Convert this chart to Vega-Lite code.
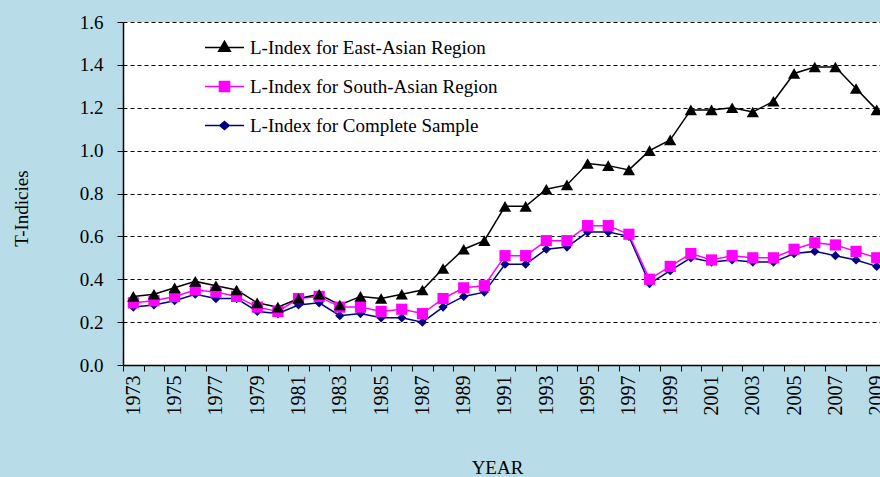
{
  "$schema": "https://vega.github.io/schema/vega-lite/v6.json",
  "autosize": {"type": "none"},
  "width": 757,
  "height": 343,
  "padding": {"left": 123, "top": 22, "right": 0, "bottom": 112},
  "background": "#b8dde8",
  "config": {
    "view": {"stroke": null, "fill": "white"},
    "font": "Liberation Serif"
  },
  "data": {
    "values": [
      {"year": 1973, "E": 0.32, "S": 0.29, "C": 0.27},
      {"year": 1974, "E": 0.33, "S": 0.30, "C": 0.28},
      {"year": 1975, "E": 0.36, "S": 0.32, "C": 0.30},
      {"year": 1976, "E": 0.39, "S": 0.35, "C": 0.33},
      {"year": 1977, "E": 0.37, "S": 0.34, "C": 0.31},
      {"year": 1978, "E": 0.35, "S": 0.32, "C": 0.31},
      {"year": 1979, "E": 0.29, "S": 0.27, "C": 0.25},
      {"year": 1980, "E": 0.27, "S": 0.25, "C": 0.24},
      {"year": 1981, "E": 0.31, "S": 0.31, "C": 0.28},
      {"year": 1982, "E": 0.33, "S": 0.32, "C": 0.29},
      {"year": 1983, "E": 0.28, "S": 0.27, "C": 0.23},
      {"year": 1984, "E": 0.32, "S": 0.27, "C": 0.24},
      {"year": 1985, "E": 0.31, "S": 0.25, "C": 0.22},
      {"year": 1986, "E": 0.33, "S": 0.26, "C": 0.22},
      {"year": 1987, "E": 0.35, "S": 0.24, "C": 0.20},
      {"year": 1988, "E": 0.45, "S": 0.31, "C": 0.27},
      {"year": 1989, "E": 0.54, "S": 0.36, "C": 0.32},
      {"year": 1990, "E": 0.58, "S": 0.37, "C": 0.34},
      {"year": 1991, "E": 0.74, "S": 0.51, "C": 0.47},
      {"year": 1992, "E": 0.74, "S": 0.51, "C": 0.47},
      {"year": 1993, "E": 0.82, "S": 0.58, "C": 0.54},
      {"year": 1994, "E": 0.84, "S": 0.58, "C": 0.55},
      {"year": 1995, "E": 0.94, "S": 0.65, "C": 0.62},
      {"year": 1996, "E": 0.93, "S": 0.65, "C": 0.62},
      {"year": 1997, "E": 0.91, "S": 0.61, "C": 0.60},
      {"year": 1998, "E": 1.00, "S": 0.40, "C": 0.38},
      {"year": 1999, "E": 1.05, "S": 0.46, "C": 0.44},
      {"year": 2000, "E": 1.19, "S": 0.52, "C": 0.50},
      {"year": 2001, "E": 1.19, "S": 0.49, "C": 0.48},
      {"year": 2002, "E": 1.20, "S": 0.51, "C": 0.49},
      {"year": 2003, "E": 1.18, "S": 0.50, "C": 0.48},
      {"year": 2004, "E": 1.23, "S": 0.50, "C": 0.48},
      {"year": 2005, "E": 1.36, "S": 0.54, "C": 0.52},
      {"year": 2006, "E": 1.39, "S": 0.57, "C": 0.53},
      {"year": 2007, "E": 1.39, "S": 0.56, "C": 0.51},
      {"year": 2008, "E": 1.29, "S": 0.53, "C": 0.49},
      {"year": 2009, "E": 1.19, "S": 0.50, "C": 0.46}
    ]
  },
  "transform": [
    {"fold": ["C", "S", "E"], "as": ["series", "value"]}
  ],
  "encoding": {
    "x": {
      "field": "year",
      "type": "quantitative",
      "scale": {"domain": [1972.5, 2009.16], "nice": false, "zero": false},
      "axis": {
        "title": "YEAR",
        "titleFont": "Liberation Serif",
        "titleFontSize": 19,
        "titleFontWeight": "normal",
        "titleColor": "black",
        "titleX": 374,
        "titleY": 102,
        "titleBaseline": "middle",
        "titleAlign": "center",
        "values": [1972.5, 1973.5, 1974.5, 1975.5, 1976.5, 1977.5, 1978.5, 1979.5, 1980.5, 1981.5, 1982.5, 1983.5, 1984.5, 1985.5, 1986.5, 1987.5, 1988.5, 1989.5, 1990.5, 1991.5, 1992.5, 1993.5, 1994.5, 1995.5, 1996.5, 1997.5, 1998.5, 1999.5, 2000.5, 2001.5, 2002.5, 2003.5, 2004.5, 2005.5, 2006.5, 2007.5, 2008.5],
        "labelExpr": "(datum.value + 0.5) % 2 == 1 ? format(datum.value + 0.5, 'd') : ''",
        "labelOffset": 10.3,
        "labelAngle": 270,
        "labelAlign": "right",
        "labelBaseline": "middle",
        "labelFont": "Liberation Serif",
        "labelFontSize": 20,
        "labelColor": "black",
        "labelPadding": 4,
        "labelOverlap": false,
        "labelFlush": false,
        "labelBound": false,
        "tickSize": 6,
        "tickColor": "black",
        "domainColor": "black",
        "domainWidth": 1.5,
        "grid": false
      }
    },
    "y": {
      "field": "value",
      "type": "quantitative",
      "scale": {"domain": [0, 1.6], "nice": false},
      "axis": {
        "title": "T-Indicies",
        "titleFont": "Liberation Serif",
        "titleFontSize": 19,
        "titleFontWeight": "normal",
        "titleColor": "black",
        "titleX": -102,
        "titleY": 186,
        "titleAlign": "center",
        "titleBaseline": "middle",
        "titleAngle": -90,
        "values": [0, 0.2, 0.4, 0.6, 0.8, 1.0, 1.2, 1.4, 1.6],
        "format": ".1f",
        "labelFont": "Liberation Serif",
        "labelFontSize": 19,
        "labelColor": "black",
        "labelPadding": 14,
        "labelFlush": false,
        "tickSize": 6,
        "tickColor": "black",
        "domainColor": "black",
        "domainWidth": 1.5,
        "grid": true,
        "gridColor": "black",
        "gridDash": [4, 3],
        "gridWidth": 1
      }
    }
  },
  "layer": [
    {
      "mark": {"type": "line", "strokeWidth": 1.5},
      "encoding": {
        "color": {
          "field": "series",
          "type": "nominal",
          "scale": {"domain": ["E", "S", "C"], "range": ["black", "#ff00ff", "#000080"]},
          "legend": {
            "orient": "none",
            "legendX": 81,
            "legendY": 5,
            "title": null,
            "padding": 0,
            "rowPadding": 8,
            "symbolSize": 1521,
            "symbolStrokeWidth": 1.5,
            "labelFont": "Liberation Serif",
            "labelFontSize": 19,
            "labelColor": "black",
            "labelOffset": 5,
            "labelLimit": 400,
            "labelExpr": "datum.label == 'E' ? 'L-Index for East-Asian Region' : datum.label == 'S' ? 'L-Index for South-Asian Region' : 'L-Index for Complete  Sample'",
            "encode": {
              "symbols": {
                "update": {
                  "shape": {"signal": "datum.value == 'E' ? 'M-1,0H1M0,-0.32L0.3,0.19L-0.3,0.19Z' : datum.value == 'S' ? 'M-1,0H1M-0.26,-0.26H0.26V0.26H-0.26Z' : 'M-1,0H1M0,-0.2L0.24,0L0,0.2L-0.24,0Z'"},
                  "fill": {"scale": "color", "field": "value"},
                  "stroke": {"scale": "color", "field": "value"},
                  "strokeWidth": {"value": 1.5},
                  "opacity": {"value": 1}
                }
              }
            }
          }
        }
      }
    },
    {
      "transform": [{"filter": "datum.series == 'C'"}],
      "mark": {"type": "point", "filled": true, "opacity": 1, "shape": "diamond", "size": 85, "color": "#000080"}
    },
    {
      "transform": [{"filter": "datum.series == 'S'"}],
      "mark": {"type": "point", "filled": true, "opacity": 1, "shape": "square", "size": 125, "color": "#ff00ff"}
    },
    {
      "transform": [{"filter": "datum.series == 'E'"}],
      "mark": {"type": "point", "filled": true, "opacity": 1, "shape": "triangle-up", "size": 150, "color": "black"}
    }
  ]
}
